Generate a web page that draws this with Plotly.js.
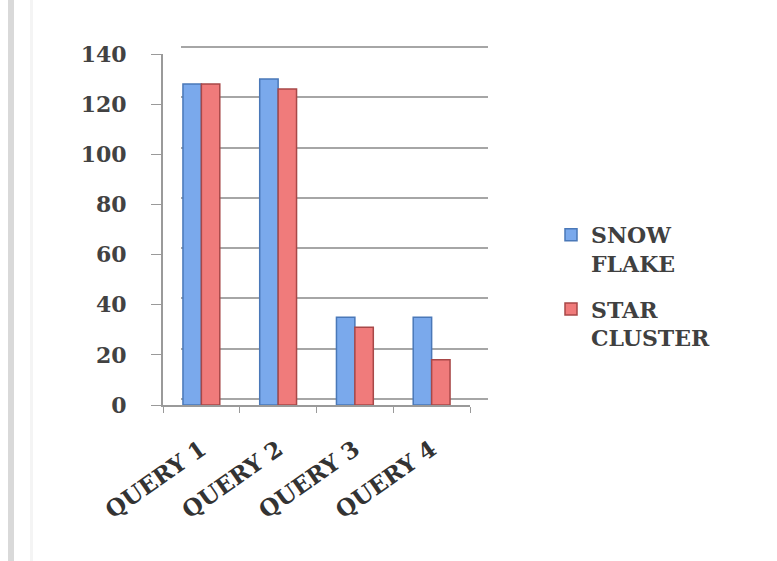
<!DOCTYPE html>
<html>
<head>
<meta charset="utf-8">
<script src="https://cdn.plot.ly/plotly-3.0.1.min.js"></script>
<style>
  html, body { margin: 0; padding: 0; background: #ffffff; }
  #chart { width: 777px; height: 561px; }
</style>
</head>
<body>
<div id="chart"></div>
<script>
// Query timings for the two schema designs
const categories = ['QUERY 1', 'QUERY 2', 'QUERY 3', 'QUERY 4'];
const snowFlake = [128, 130, 35, 35];
const starCluster = [128, 126, 31, 18];
const seriesNames = ['SNOW<br>FLAKE', 'STAR<br>CLUSTER'];
const yTicks = [0, 20, 40, 60, 80, 100, 120, 140];

const W = 777, H = 561;
const px = v => v / W;          // horizontal pixel -> paper fraction
const py = v => 1 - v / H;      // vertical pixel (from top) -> paper fraction

const family = 'DejaVu Serif, Liberation Serif, serif';
const font = { family: family, size: 22, color: '#404040', weight: 'bold' };
const yTickFont = { family: family, size: 22, color: '#424242', weight: 'bold' };
const xTickFont = { family: family, size: 23, color: '#333333', weight: 'bold' };

const traces = [
  // empty trace that owns the back-wall grid subplot
  { type: 'scatter', x: [], y: [], xaxis: 'x', yaxis: 'y', showlegend: false, hoverinfo: 'skip' },
  {
    type: 'bar', name: seriesNames[0], x: categories, y: snowFlake,
    xaxis: 'x2', yaxis: 'y2', legendgroup: 'a',
    marker: { color: '#7aa9ec', line: { color: '#4a78b8', width: 1.5 } }
  },
  {
    type: 'bar', name: seriesNames[1], x: categories, y: starCluster,
    xaxis: 'x2', yaxis: 'y2', legendgroup: 'b',
    marker: { color: '#f07b7b', line: { color: '#a84848', width: 1.5 } }
  }
];

const layout = {
  width: W, height: H,
  margin: { l: 0, r: 0, t: 0, b: 0 },
  paper_bgcolor: '#ffffff',
  plot_bgcolor: 'rgba(0,0,0,0)',
  font: font,
  showlegend: true,
  barmode: 'group',
  bargap: 0.52,
  bargroupgap: 0,
  // back wall with the horizontal gridlines (range padded so 0 and 140 lines show)
  xaxis: {
    domain: [px(181), px(488)], anchor: 'y', range: [0, 1],
    showgrid: false, showline: false, zeroline: false, showticklabels: false, ticks: ''
  },
  yaxis: {
    domain: [py(401.5), py(44.5)], anchor: 'x', range: [-1, 141],
    tickvals: yTicks, showgrid: true, gridcolor: '#a6a6a6', gridwidth: 2,
    showline: false, zeroline: false, showticklabels: false, ticks: ''
  },
  // front axes carrying the bars
  xaxis2: {
    domain: [px(163), px(470)], anchor: 'y2', type: 'category',
    showgrid: false, zeroline: false,
    showline: true, linecolor: '#9a9a9a', linewidth: 2,
    ticks: 'outside', tickson: 'boundaries', ticklen: 6, tickcolor: '#9a9a9a', tickwidth: 1,
    tickangle: -35, ticklabelstandoff: 20,
    tickfont: xTickFont, automargin: false
  },
  yaxis2: {
    domain: [py(405), py(54)], anchor: 'x2', range: [0, 140],
    tickvals: yTicks, showgrid: false, zeroline: false,
    showline: true, linecolor: '#9a9a9a', linewidth: 2,
    ticks: 'outside', ticklen: 10, tickcolor: '#9a9a9a', tickwidth: 1,
    ticklabelstandoff: 20,
    tickfont: yTickFont, automargin: false
  },
  legend: {
    x: px(551), y: py(214), xanchor: 'left', yanchor: 'top',
    valign: 'top', traceorder: 'grouped', tracegroupgap: 14,
    font: font, bgcolor: 'rgba(0,0,0,0)', itemwidth: 30
  },
  shapes: [
    { type: 'rect', xref: 'paper', yref: 'paper', x0: px(8), x1: px(14), y0: 0, y1: 1,
      fillcolor: '#d9d9d9', line: { width: 0 }, layer: 'below' },
    { type: 'rect', xref: 'paper', yref: 'paper', x0: px(30), x1: px(33), y0: 0, y1: 1,
      fillcolor: '#f4f4f4', line: { width: 0 }, layer: 'below' }
  ]
};

Plotly.newPlot('chart', traces, layout, { displayModeBar: false, staticPlot: true });
</script>
</body>
</html>
